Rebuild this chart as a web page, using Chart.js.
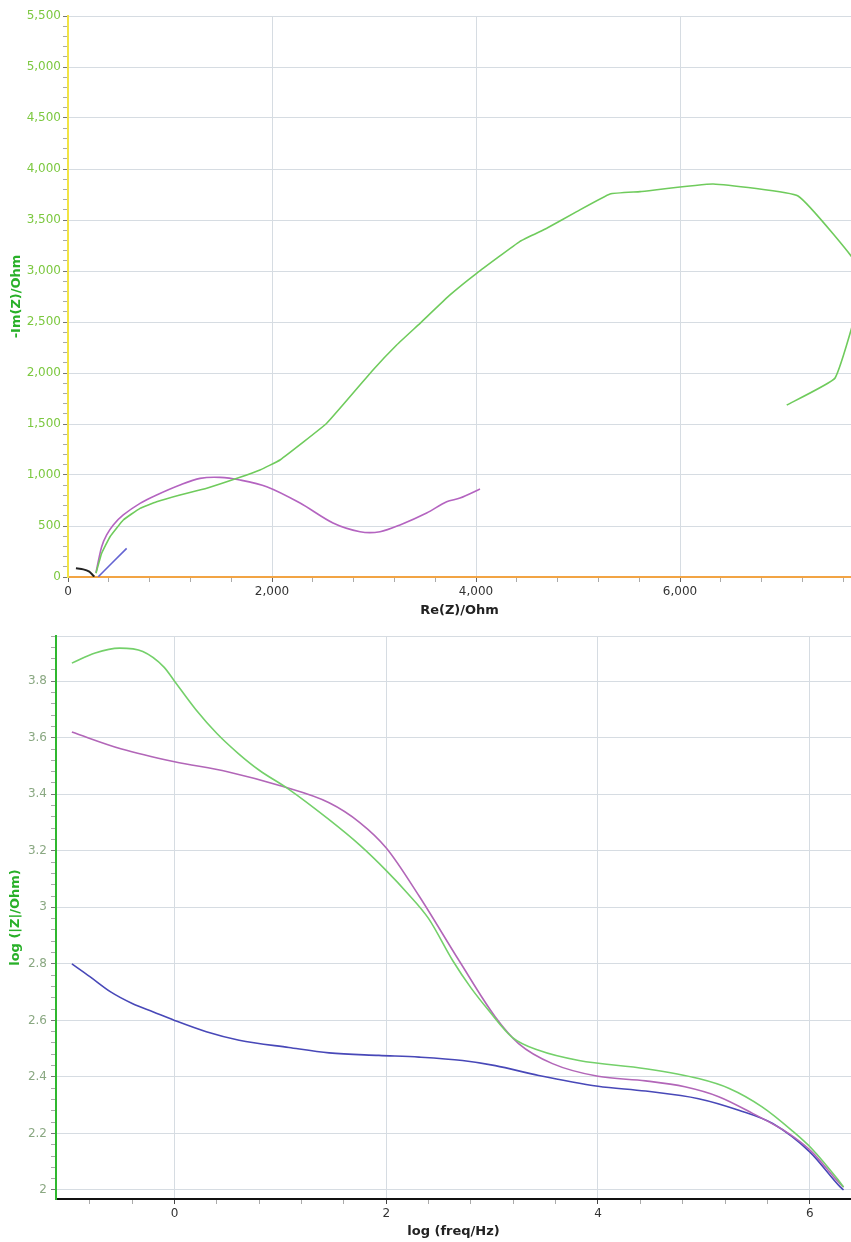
<!DOCTYPE html>
<html><head><meta charset="utf-8">
<script src="https://cdn.jsdelivr.net/npm/chart.js@4.4.1/dist/chart.umd.min.js"></script>
<style>
html,body{margin:0;padding:0;background:#fff;}
#wrap{position:relative;width:851px;height:1242px;overflow:hidden;}
#c1{position:absolute;left:0;top:0;}
#c2{position:absolute;left:0;top:620px;}
</style></head><body>
<div id="wrap"><canvas id="c1" width="851" height="620"></canvas><canvas id="c2" width="851" height="622"></canvas></div>
<script>
// ---------- Nyquist plot data (Re(Z)/Ohm, -Im(Z)/Ohm) ----------
const nyqGreenRe  = [274, 330, 412, 542, 706, 869, 1098, 1360, 1686, 1882, 2078, 2536, 2990, 3222, 3451, 3745, 4006, 4431, 4693, 4987, 5314, 5608, 6324, 7157, 7800, 7520, 7046];
const nyqGreenIm  = [36, 232, 395, 559, 673, 738, 804, 870, 977, 1049, 1147, 1507, 2030, 2275, 2487, 2765, 2977, 3291, 3419, 3582, 3755, 3778, 3853, 3735, 2960, 1951, 1686];
const nyqPurpleRe = [274, 330, 379, 444, 542, 706, 869, 1098, 1294, 1490, 1686, 1948, 2275, 2598, 2863, 3059, 3255, 3516, 3712, 3843, 4039];
const nyqPurpleIm = [42, 297, 412, 510, 608, 722, 804, 902, 967, 977, 951, 885, 725, 529, 444, 444, 510, 627, 738, 774, 862];
const nyqBlueRe   = [297, 436, 575];
const nyqBlueIm   = [3, 142, 281];
const nyqBlackRe  = [78, 150, 209, 242, 258];
const nyqBlackIm  = [85, 75, 52, 20, 3];
const nyqXTickLabels = [0, 2000, 4000, 6000];
const nyqXMinorStep = 400;

// ---------- Bode plot data (log freq/Hz, log |Z|/Ohm) ----------
const bodeGreenX  = [-0.97, -0.75, -0.52, -0.3, -0.1, 0, 0.2, 0.4, 0.6, 0.8, 1.07, 1.46, 1.75, 2.0, 2.2, 2.4, 2.63, 2.8, 2.97, 3.19, 3.44, 3.82, 4.45, 4.95, 5.24, 5.55, 5.83, 6.02, 6.27, 6.32];
const bodeGreenY  = [3.864, 3.90, 3.917, 3.905, 3.85, 3.80, 3.70, 3.615, 3.545, 3.485, 3.42, 3.31, 3.22, 3.13, 3.05, 2.96, 2.81, 2.715, 2.634, 2.54, 2.494, 2.458, 2.429, 2.394, 2.359, 2.294, 2.211, 2.146, 2.035, 2.01];
const bodePurpleX = [-0.97, -0.5, 0, 0.5, 1.0, 1.46, 1.75, 2.0, 2.31, 2.69, 3.03, 3.25, 3.57, 4.0, 4.45, 4.82, 5.14, 5.46, 5.8, 6.02, 6.29, 6.32];
const bodePurpleY = [3.62, 3.56, 3.515, 3.48, 3.43, 3.37, 3.30, 3.21, 3.04, 2.81, 2.612, 2.518, 2.447, 2.402, 2.386, 2.365, 2.33, 2.271, 2.2, 2.135, 2.02, 2.01];
const bodeBlueX   = [-0.97, -0.8, -0.6, -0.4, -0.2, 0, 0.3, 0.61, 1.08, 1.46, 1.93, 2.31, 2.72, 3.03, 3.44, 4.0, 4.45, 4.95, 5.33, 5.65, 6.0, 6.29, 6.32];
const bodeBlueY   = [2.80, 2.755, 2.70, 2.66, 2.63, 2.60, 2.56, 2.53, 2.504, 2.485, 2.476, 2.47, 2.458, 2.44, 2.405, 2.367, 2.35, 2.323, 2.282, 2.235, 2.135, 2.01, 2.0];
const bodeXTickLabels = [0, 2, 4, 6];

function pts(xs, ys){ return xs.map((x,i)=>({x:x, y:ys[i]})); }
function comma(v){ return String(Math.round(v)).replace(/\B(?=(\d{3})+(?!\d))/g, ','); }
function near(v, step){ return Math.abs(v/step - Math.round(v/step)) < 1e-6; }
function inList(list, v){ return list.some(t => Math.abs(t - v) < 1e-6); }

const GRID = '#d6dce2';
const NONE = 'rgba(0,0,0,0)';
const tickFont = {family: 'DejaVu Sans', size: 12};
const titleFont = {family: 'DejaVu Sans', size: 13, weight: 'bold'};

const lineDs = (label, data, color, width, tension, extra) => Object.assign({
  label, data, borderColor: color, backgroundColor: color, borderWidth: width,
  pointRadius: 0, tension: tension, fill: false, showLine: true
}, extra || {});

// ---------- Top chart: Nyquist ----------
new Chart(document.getElementById('c1'), {
  type: 'scatter',
  data: { datasets: [
    lineDs('green', pts(nyqGreenRe, nyqGreenIm), '#6fcb5c', 1.6, 0.1),
    lineDs('purple', pts(nyqPurpleRe, nyqPurpleIm), '#b464c0', 1.6, 0.3),
    lineDs('blue', pts(nyqBlueRe, nyqBlueIm), '#6464d2', 1.6, 0),
    lineDs('black', pts(nyqBlackRe, nyqBlackIm), '#222222', 2, 0.2)
  ]},
  options: {
    responsive: false, animation: false,
    layout: { padding: {top: 16, left: 0, right: 0, bottom: 0} },
    plugins: { legend: {display: false}, tooltip: {enabled: false} },
    scales: {
      x: {
        type: 'linear', min: 0, max: 7676,
        afterFit: s => { s.height = 43; },
        afterBuildTicks: s => {
          const t = [];
          for (let v = s.min; v <= s.max; v += nyqXMinorStep) t.push({value: v});
          s.ticks = t;
        },
        ticks: { autoSkip: false, maxRotation: 0, padding: 3,
          color: '#333', font: tickFont,
          callback: v => inList(nyqXTickLabels, v) ? comma(v) : '' },
        grid: { tickLength: 5,
          color: c => (c.tick && c.tick.value > 0 && inList(nyqXTickLabels, c.tick.value)) ? GRID : NONE,
          tickColor: c => (c.tick && inList(nyqXTickLabels, c.tick.value)) ? '#666' : '#aaa' },
        border: { color: '#f2a444', width: 2 },
        title: { display: true, text: 'Re(Z)/Ohm', color: '#222', font: titleFont, padding: {top: 0, bottom: 2} }
      },
      y: {
        type: 'linear', min: 0, max: 5500,
        afterFit: s => { s.width = 68; },
        ticks: { stepSize: 100, includeBounds: false, autoSkip: false, padding: 2,
          color: '#7cc840', font: tickFont,
          callback: v => near(v, 500) ? comma(v) : '' },
        grid: { tickLength: 5,
          color: c => (c.tick && c.tick.value > 0 && near(c.tick.value, 500)) ? GRID : NONE,
          tickColor: c => (c.tick && near(c.tick.value, 500)) ? '#777' : '#aaa' },
        border: { color: '#f2e444', width: 2 },
        title: { display: true, text: '-Im(Z)/Ohm', color: '#28b028', font: titleFont, padding: {top: 9, bottom: 0} }
      }
    }
  }
});

// ---------- Bottom chart: Bode ----------
const mono = {cubicInterpolationMode: 'monotone'};
new Chart(document.getElementById('c2'), {
  type: 'scatter',
  data: { datasets: [
    lineDs('green', pts(bodeGreenX, bodeGreenY), '#74d06a', 1.6, 0.4, mono),
    lineDs('purple', pts(bodePurpleX, bodePurpleY), '#b266b8', 1.6, 0.4, mono),
    lineDs('blue', pts(bodeBlueX, bodeBlueY), '#4848b8', 1.6, 0.4, mono)
  ]},
  options: {
    responsive: false, animation: false,
    layout: { padding: {top: 16, left: 0, right: 0, bottom: 0} },
    plugins: { legend: {display: false}, tooltip: {enabled: false} },
    scales: {
      x: {
        type: 'linear', min: -1.12, max: 6.39,
        afterFit: s => { s.height = 43; },
        ticks: { stepSize: 0.4, includeBounds: false, autoSkip: false, maxRotation: 0, padding: 3,
          color: '#333', font: tickFont,
          callback: v => inList(bodeXTickLabels, v) ? String(Math.round(v)) : '' },
        grid: { tickLength: 5,
          color: c => (c.tick && inList(bodeXTickLabels, c.tick.value)) ? GRID : NONE,
          tickColor: c => (c.tick && inList(bodeXTickLabels, c.tick.value)) ? '#444' : '#aaa' },
        border: { color: '#111', width: 2 },
        title: { display: true, text: 'log (freq/Hz)', color: '#222', font: titleFont, padding: {top: 0, bottom: 3} }
      },
      y: {
        type: 'linear', min: 1.968, max: 3.96,
        afterFit: s => { s.width = 56; },
        ticks: { stepSize: 0.04, includeBounds: false, autoSkip: false, padding: 4,
          color: '#8aa882', font: tickFont,
          callback: v => near(v, 0.2) ? String(Number(v.toFixed(2))) : '' },
        grid: { tickLength: 5,
          color: c => (c.tick && (near(c.tick.value, 0.2) || c.tick.value > 3.95)) ? GRID : NONE,
          tickColor: c => (c.tick && near(c.tick.value, 0.2)) ? '#777' : '#aaa' },
        border: { color: '#2fb82f', width: 2 },
        title: { display: true, text: 'log (|Z|/Ohm)', color: '#28b028', font: titleFont, padding: {top: 8, bottom: 0} }
      }
    }
  }
});
</script>
</body></html>
